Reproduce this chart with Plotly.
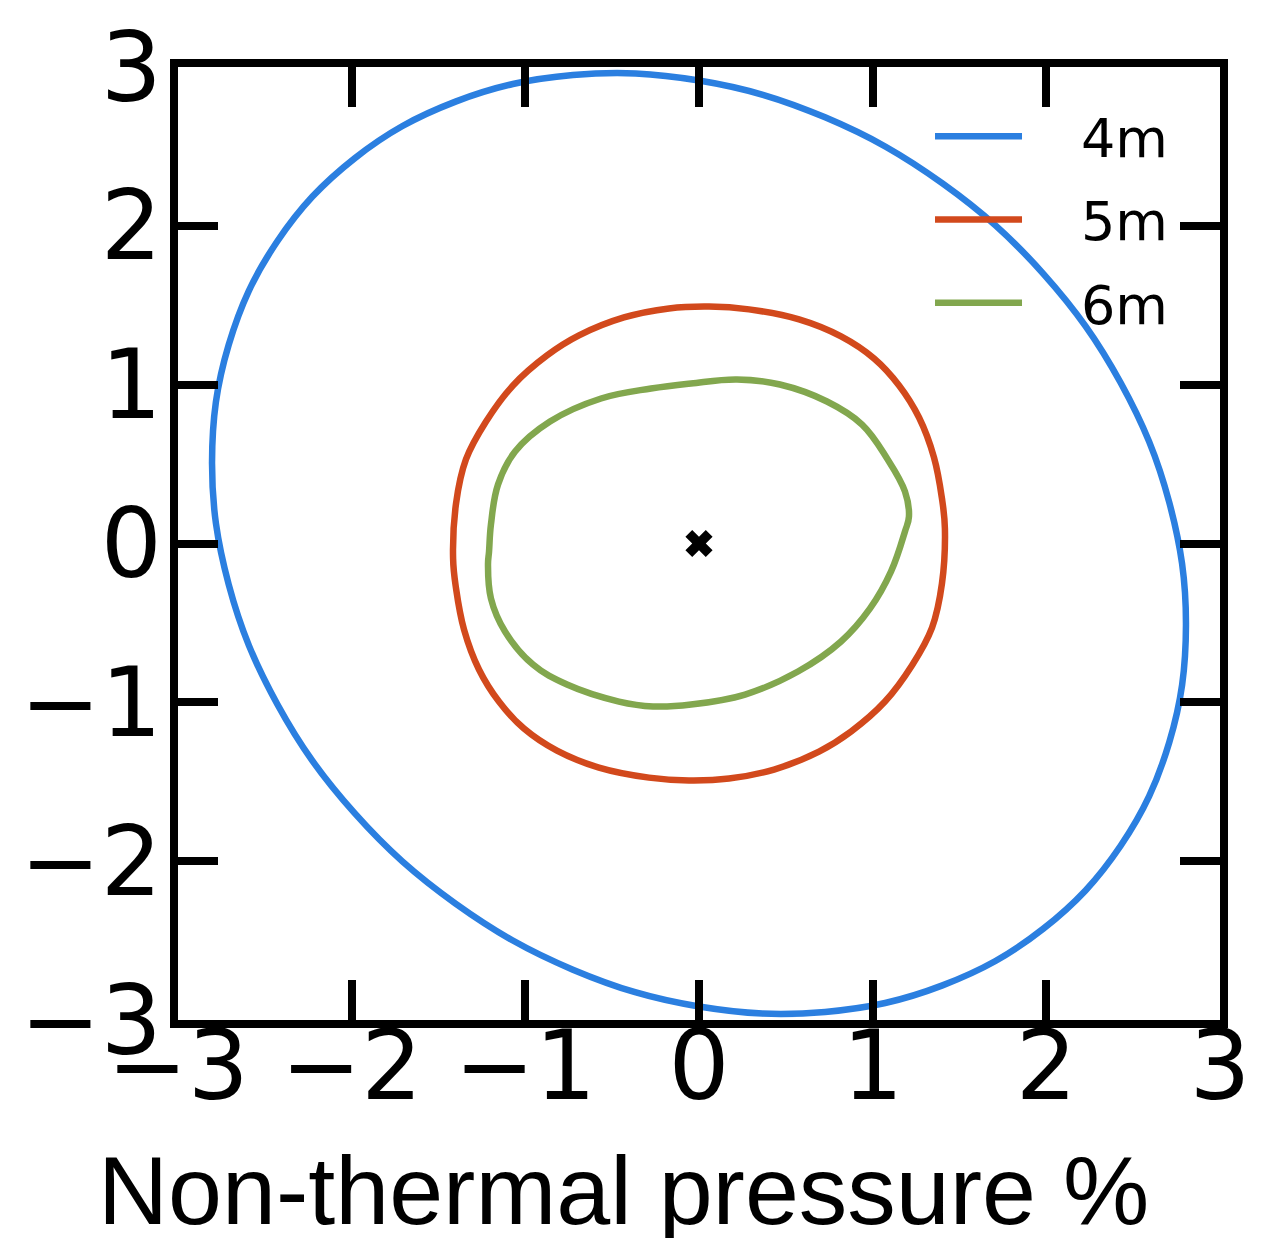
import plotly.graph_objects as go

# ---------------- data ----------------
series_names = ["4m", "5m", "6m"]
series_colors = ["#2b7fe0", "#d2491c", "#82a74e"]

# contour 4m (blue)
x_4m = [2.804, 2.708, 2.428, 1.983, 1.402, 0.726, 0.000, -0.726, -1.402, -1.983, -2.428, -2.708,
        -2.804, -2.708, -2.428, -1.983, -1.402, -0.726, 0.000, 0.726, 1.402, 1.983, 2.428, 2.708]
y_4m = [-0.514, 0.258, 1.012, 1.698, 2.267, 2.683, 2.915, 2.949, 2.782, 2.425, 1.903, 1.251,
        0.514, -0.258, -1.012, -1.698, -2.267, -2.683, -2.915, -2.949, -2.782, -2.425, -1.903, -1.251]

# contour 5m (red)
x_5m = [1.416, 1.399, 1.353, 1.267, 1.152, 1.008, 0.818, 0.576, 0.288, 0.058,
        -0.173, -0.432, -0.691, -0.875, -1.071, -1.226, -1.342, -1.399, -1.416,
        -1.399, -1.353, -1.267, -1.152, -1.008, -0.818, -0.576, -0.288, -0.058,
        0.173, 0.432, 0.691, 0.875, 1.071, 1.226, 1.342, 1.399]
y_5m = [0.094, 0.283, 0.542, 0.793, 0.995, 1.165, 1.304, 1.411, 1.474, 1.492,
        1.480, 1.423, 1.310, 1.184, 0.995, 0.768, 0.529, 0.252, -0.094,
        -0.283, -0.542, -0.793, -0.995, -1.165, -1.304, -1.411, -1.474, -1.492,
        -1.480, -1.423, -1.310, -1.184, -0.995, -0.768, -0.529, -0.252]

# contour 6m (green)
x_6m = [0.219, -0.046, -0.276, -0.564, -0.858, -1.059, -1.157, -1.198, -1.209, -1.215,
        -1.198, -1.117, -0.956, -0.760, -0.461, -0.265, -0.046, 0.265, 0.570, 0.818,
        0.985, 1.106, 1.186, 1.209, 1.186, 1.083, 0.939, 0.737, 0.466]
y_6m = [1.033, 1.008, 0.976, 0.913, 0.768, 0.579, 0.372, 0.120, -0.050, -0.132,
        -0.346, -0.554, -0.762, -0.888, -0.995, -1.026, -1.014, -0.951, -0.806, -0.617,
        -0.409, -0.176, 0.076, 0.170, 0.327, 0.535, 0.749, 0.894, 1.001]

best_fit_x = [0.0]
best_fit_y = [0.0]

tick_values = [-3, -2, -1, 0, 1, 2, 3]
tick_labels = ["\u22123", "\u22122", "\u22121", "0", "1", "2", "3"]
x_title = "Non-thermal pressure %"

# ---------------- figure ----------------
fig = go.Figure()

for name, color, xs, ys in zip(series_names, series_colors,
                               [x_4m, x_5m, x_6m], [y_4m, y_5m, y_6m]):
    fig.add_trace(go.Scatter(
        x=xs + xs[:1], y=ys + ys[:1], mode="lines",
        name="\u2003" + name,          # em space: gap between legend line and label
        legendgroup=name,
        line=dict(color=color, width=6.5, shape="spline", smoothing=1.1),
    ))

fig.add_trace(go.Scatter(
    x=best_fit_x, y=best_fit_y, mode="markers", showlegend=False,
    marker=dict(symbol="x", size=24, color="black", line=dict(width=0)),
))

axis_common = dict(
    range=[-3, 3], tickvals=tick_values, ticktext=tick_labels,
    ticks="inside", ticklen=40, tickwidth=8, tickcolor="black",
    showline=True, linewidth=8, linecolor="black", mirror="ticks",
    showgrid=False, zeroline=False, automargin=False,
    tickfont=dict(family="DejaVu Sans", size=96, color="black"),
)

fig.update_xaxes(**axis_common, ticklabelstandoff=-44)
fig.update_yaxes(**axis_common, ticklabelstandoff=-11)

fig.add_annotation(
    text=x_title, xref="paper", yref="paper", x=0.428, y=-0.178,
    xanchor="center", yanchor="middle", showarrow=False, height=110,
    font=dict(family="Liberation Sans", size=97, color="black"),
)

fig.update_layout(
    width=1261, height=1238,
    margin=dict(l=178, r=41, t=67, b=218),
    paper_bgcolor="white", plot_bgcolor="white",
    showlegend=True,
    legend=dict(
        x=0.7217, y=0.971, xanchor="left", yanchor="top",
        bgcolor="rgba(0,0,0,0)", borderwidth=0,
        font=dict(family="DejaVu Sans", size=54, color="black"),
        tracegroupgap=10, itemwidth=87,
    ),
)

fig.write_html("out.html")
